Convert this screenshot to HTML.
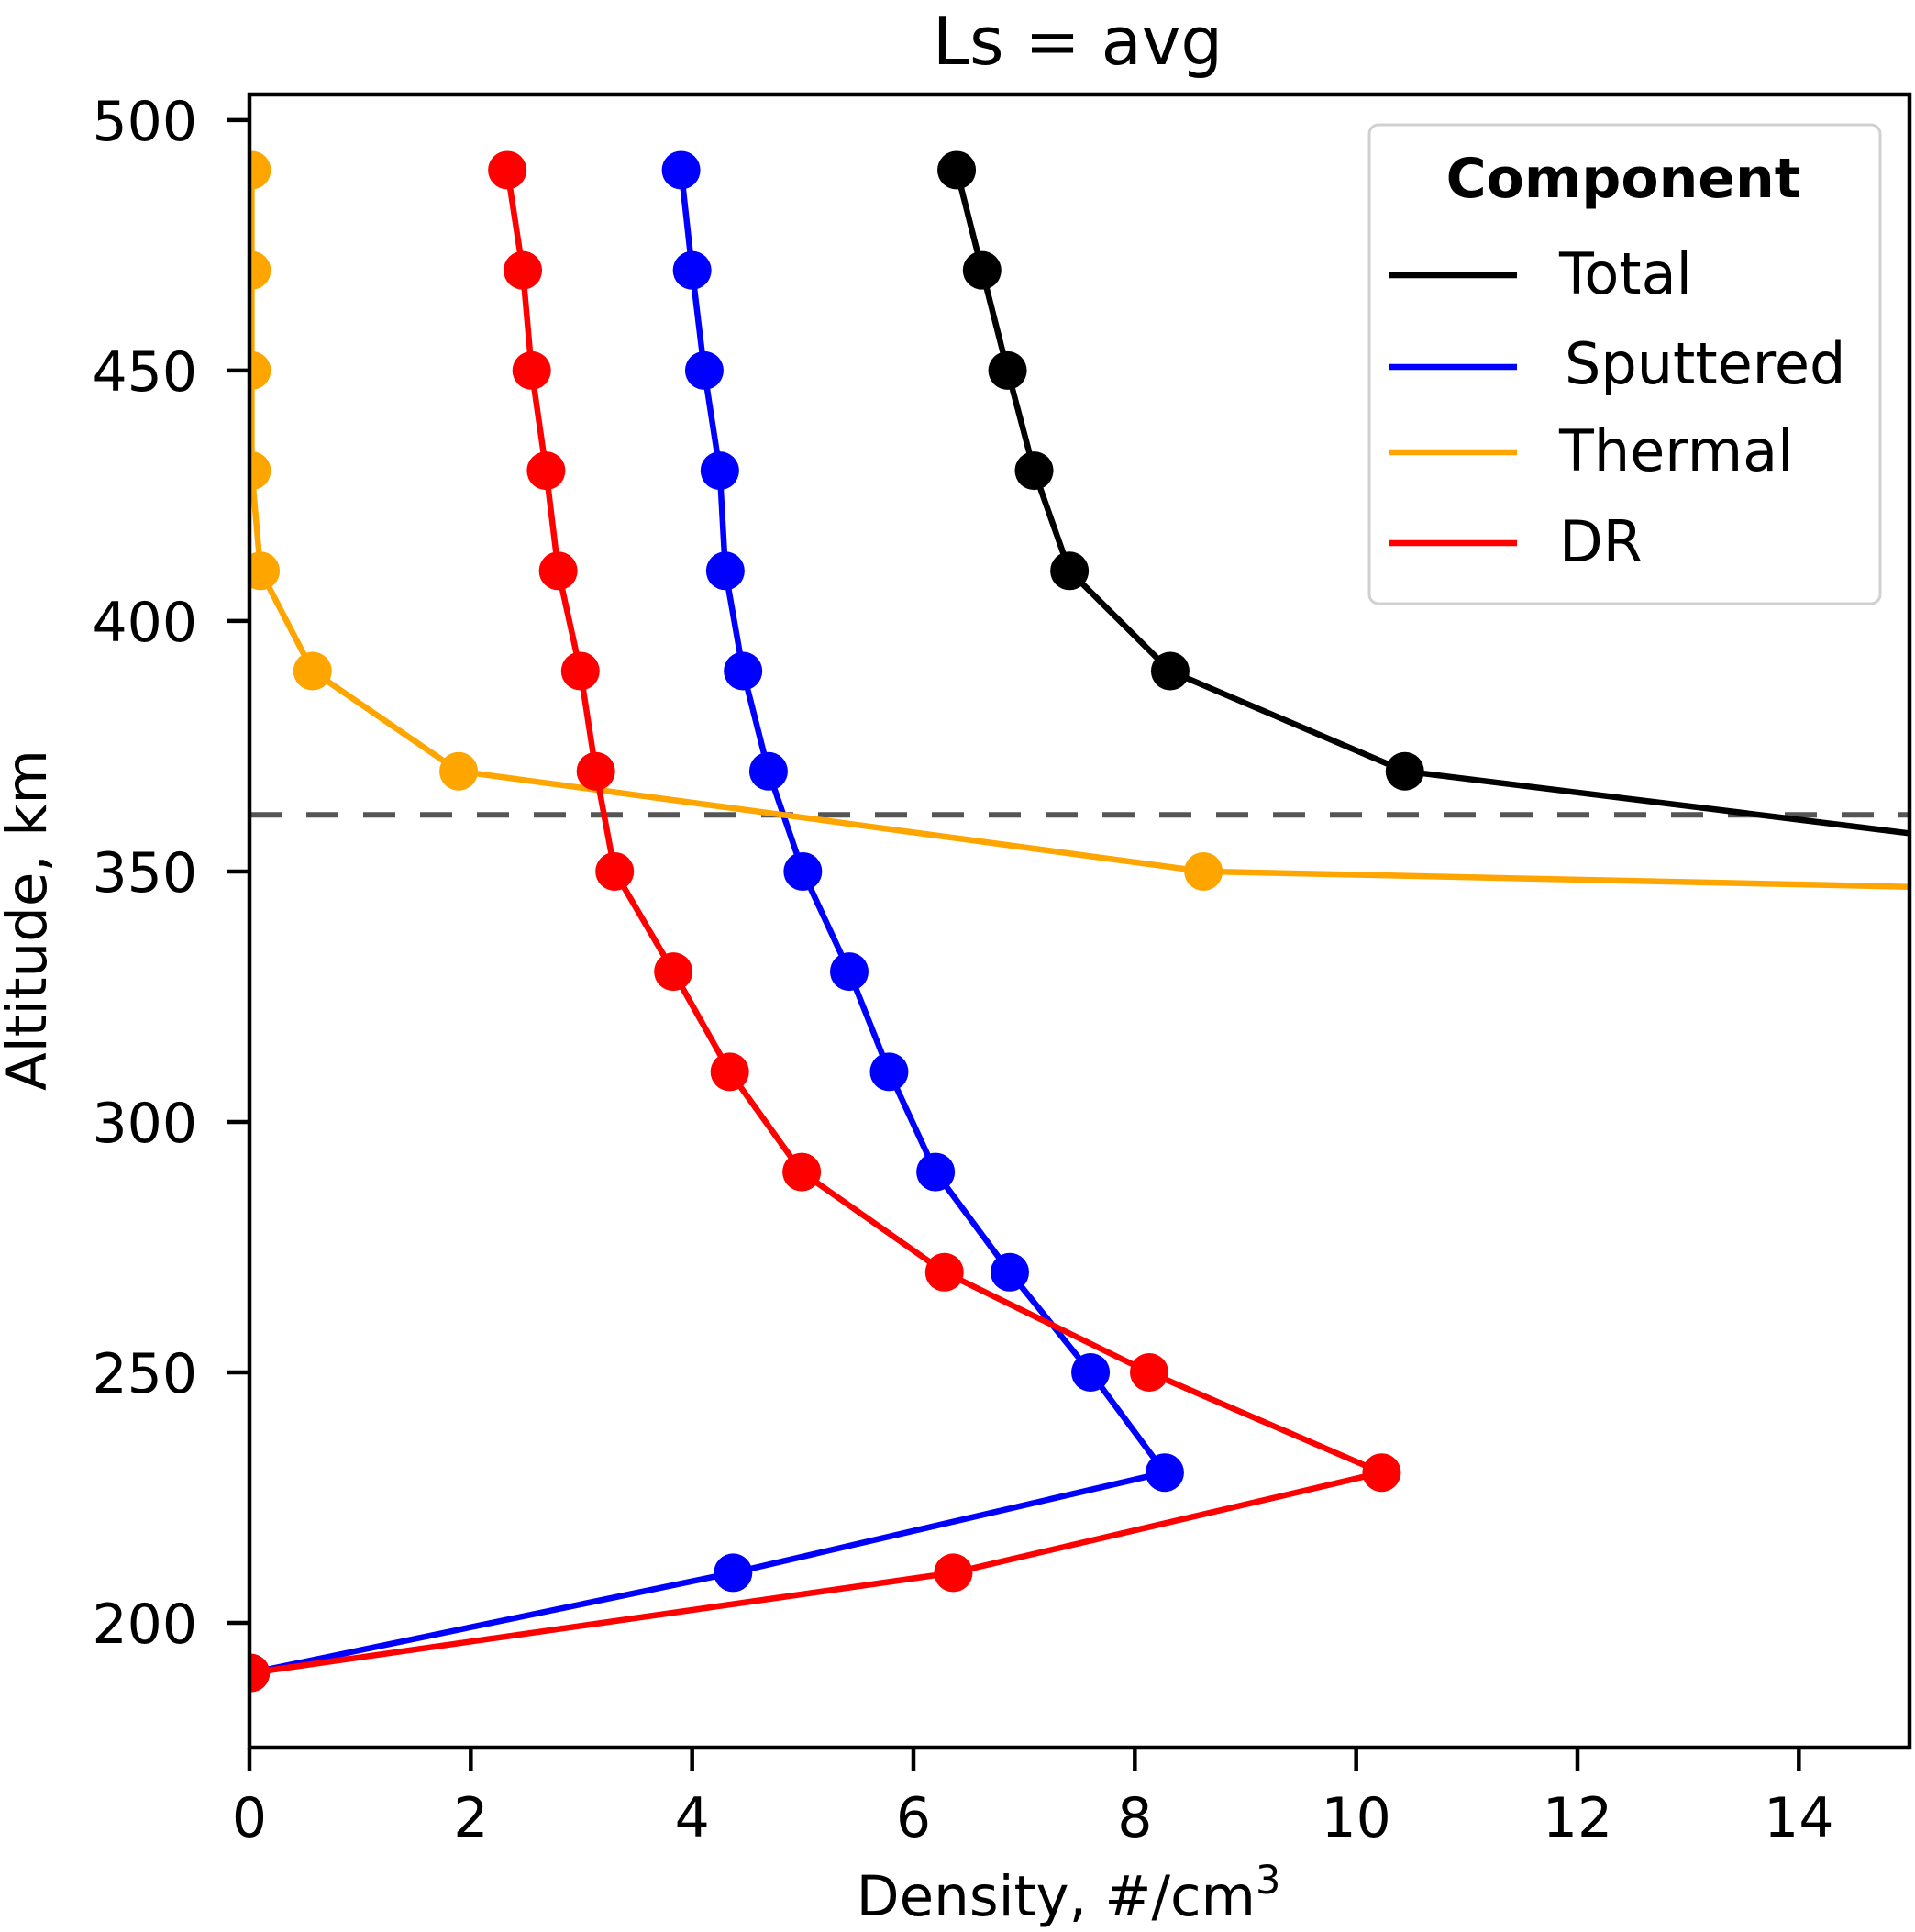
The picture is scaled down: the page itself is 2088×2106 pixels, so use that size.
<!DOCTYPE html>
<html><head><meta charset="utf-8"><style>
html,body{margin:0;padding:0;background:#fff;}
svg{display:block;font-family:"DejaVu Sans","Liberation Sans",sans-serif;}
</style></head><body>
<svg id="chart" width="2088" height="2106" viewBox="0 0 2088 2106" xmlns="http://www.w3.org/2000/svg">
<rect x="0" y="0" width="2088" height="2106" fill="#fff"/>
<defs><clipPath id="plotclip"><rect x="272" y="103" width="1810" height="1802"/></clipPath></defs>
<text x="1175" y="70" font-size="72" text-anchor="middle" fill="#000">Ls = avg</text>
<g id="series" clip-path="url(#plotclip)"></g>
<g id="axes"></g>
<text x="1165" y="2088" font-size="61" text-anchor="middle" fill="#000">Density, #/cm<tspan dy="-24" font-size="43">3</tspan></text>
<text x="0" y="0" font-size="61" text-anchor="middle" fill="#000" transform="translate(50,1003) rotate(-90)">Altitude, km</text>
<g>
<rect x="1493" y="136" width="557" height="522" rx="10" fill="#fff" stroke="#d0d0d0" stroke-width="3"/>
<text x="1770" y="215" font-size="60" font-weight="bold" text-anchor="middle">Component</text>
<g><line x1="1514" y1="300" x2="1654" y2="300" stroke="#000" stroke-width="6.5"/><text x="1700" y="320" font-size="62">Total</text></g>
<g><line x1="1514" y1="400" x2="1654" y2="400" stroke="#0000ff" stroke-width="6.5"/><text x="1706" y="418" font-size="62">Sputtered</text></g>
<g><line x1="1514" y1="493" x2="1654" y2="493" stroke="#ffa500" stroke-width="6.5"/><text x="1700" y="513" font-size="62">Thermal</text></g>
<g><line x1="1514" y1="592" x2="1654" y2="592" stroke="#ff0000" stroke-width="6.5"/><text x="1700" y="612" font-size="62">DR</text></g>
</g>
</svg>
<script>
const altitudes = [490,470,450,430,410,390,370,350,330,310,290,270,250,230,210,190];
const totalVals = [6.39,6.62,6.85,7.09,7.41,8.32,10.44,17.8,60,null,null,null,null,null,null,null];
const sputteredVals = [3.90,4.00,4.11,4.25,4.30,4.46,4.69,5.00,5.42,5.78,6.20,6.87,7.60,8.27,4.37,0.01];
const thermalVals = [0.02,0.02,0.02,0.02,0.10,0.57,1.89,8.62,50,null,null,null,null,null,null,null];
const drVals = [2.33,2.47,2.55,2.68,2.79,2.99,3.13,3.30,3.83,4.34,4.99,6.28,8.13,10.23,6.36,0.01];
const xTicks = [0,2,4,6,8,10,12,14];
const yTicks = [200,250,300,350,400,450,500];
const refAltitude = 361.3;

const X0=272, X1=2082, Y0=103, Y1=1905;
const xMin=0, xMax=15, yMin=175.1, yMax=505.1;
function xs(v){return X0+(v-xMin)/(xMax-xMin)*(X1-X0);}
function ys(v){return Y1-(v-yMin)/(yMax-yMin)*(Y1-Y0);}
const NS="http://www.w3.org/2000/svg";
function mk(tag,attrs,parent){const e=document.createElementNS(NS,tag);for(const k in attrs)e.setAttribute(k,attrs[k]);parent.appendChild(e);return e;}
const series=document.getElementById('series');
const axes=document.getElementById('axes');

const dl=mk('line',{x1:X0,x2:X1,y1:ys(refAltitude),y2:ys(refAltitude),stroke:'#555',"stroke-width":6,"stroke-dasharray":"35 27"},series);



function drawSeries(vals,color,name){
  const g=mk('g',{},series);
  
  
  const pts=[];
  vals.forEach((v,i)=>{ if(v!==null) pts.push(xs(v).toFixed(1)+','+ys(altitudes[i]).toFixed(1)); });
  const pl=mk('polyline',{points:pts.join(' '),fill:'none',stroke:color,"stroke-width":6.5,"stroke-linejoin":"round"},g);
  
  
  vals.forEach((v,i)=>{
    if(v===null) return;
    const c=mk('circle',{cx:xs(v),cy:ys(altitudes[i]),r:21,fill:color},g);
    
    
  });
}
drawSeries(totalVals,'#000000','total');
drawSeries(sputteredVals,'#0000ff','sputtered');
drawSeries(thermalVals,'#ffa500','thermal');
drawSeries(drVals,'#ff0000','dr');

const frame=mk('rect',{x:X0,y:Y0,width:X1-X0,height:Y1-Y0,fill:'none',stroke:'#000',"stroke-width":4.5},axes);


xTicks.forEach(t=>{
  const l=mk('line',{x1:xs(t),x2:xs(t),y1:Y1,y2:Y1+25,stroke:'#000',"stroke-width":4.5},axes);
  
  
  const tx=mk('text',{x:xs(t),y:2002,"font-size":60,"text-anchor":"middle"},axes);
  
  
  tx.textContent=t;
});
yTicks.forEach(t=>{
  const l=mk('line',{x1:X0-25,x2:X0,y1:ys(t),y2:ys(t),stroke:'#000',"stroke-width":4.5},axes);
  
  
  const tx=mk('text',{x:215,y:ys(t)+22,"font-size":60,"text-anchor":"end"},axes);
  
  
  tx.textContent=t;
});
</script>
</body></html>
